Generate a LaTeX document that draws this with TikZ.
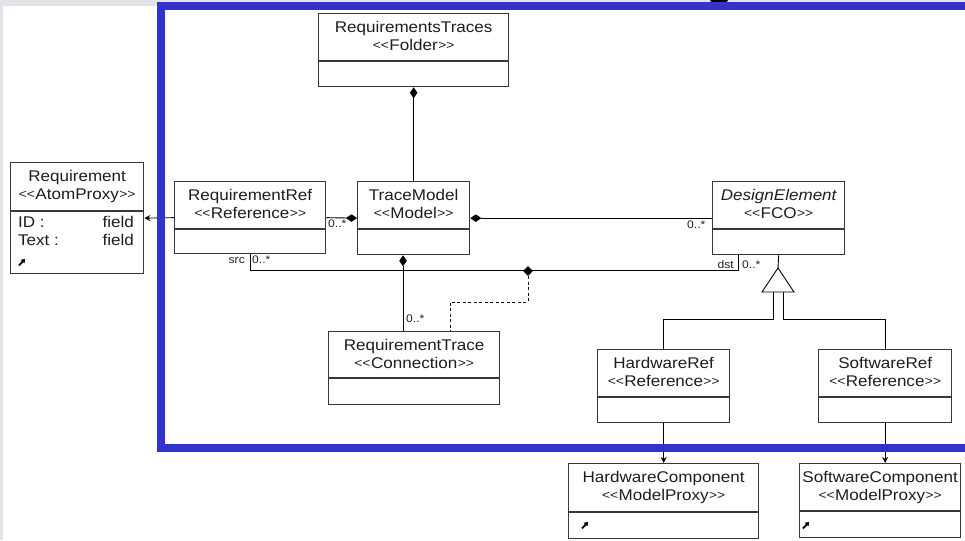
\documentclass[tikz,border=0pt]{standalone}
\usepackage{fontspec}
\setmainfont{Liberation Sans}[FakeStretch=1.1, Ligatures=TeXOff]
\usetikzlibrary{arrows.meta,calc,shapes.geometric}

\definecolor{framebl}{RGB}{51,51,204}
\definecolor{pagegray}{RGB}{227,228,234}
\definecolor{edgegray}{RGB}{55,55,55}
\definecolor{inkgray}{RGB}{30,30,30}

\tikzset{
  classbox/.style={draw=edgegray, line width=1.3pt, fill=white, inner sep=0pt, anchor=north west},
  divider/.style={draw=edgegray, line width=1.3pt},
  titletext/.style={inner sep=0pt, anchor=base, text=inkgray, font=\fontsize{15.5}{18}\selectfont},
  fieldtext/.style={inner sep=0pt, text=inkgray, font=\fontsize{15.5}{18}\selectfont},
  multtext/.style={inner sep=0pt, anchor=base west, text=inkgray, font=\fontsize{11}{13}\selectfont},
  link/.style={draw=black, line width=0.9pt},
  compos/.style={link, {Diamond[length=11pt,width=7.5pt]}-},
  navarrow/.style={link, -{Stealth[length=6pt,width=6pt]}},
  assocdash/.style={link, dash pattern=on 3pt off 2.5pt},
  junction/.style={diamond, fill=black, inner sep=0pt, minimum size=10pt},
  gentri/.style={link, fill=white},
  frameline/.style={draw=framebl, line width=8pt},
  proxyicon/.style={line width=1.8pt, -{Triangle[length=3.5pt,width=5pt]}}
}

% stereotype label with small doubled angle brackets
\newcommand\smallbr[1]{\raisebox{1pt}{\fontsize{12.5}{14}\selectfont#1\kern0pt#1}}
\newcommand\stereo[1]{\smallbr{<}\kern0.5pt#1\kern0.5pt\smallbr{>}}

% class box: name, left, top, right, bottom, divider y, name line, stereotype
\newcommand\umlclass[8]{%
  \node[classbox, minimum width=#4-#2, minimum height=#5-#3] (#1) at (#2,#3) {};
  \draw[divider] (#2,#6) -- (#4,#6);
  \node[titletext] (#1-name) at ($(#1.north)+(0,19.5)$) {#7};
  \node[titletext] (#1-kind) at ($(#1.north)+(0,37.5)$) {\stereo{#8}};
}

\begin{document}
\begin{tikzpicture}[x=1pt,y=-1pt]
  \useasboundingbox (0,0) rectangle (965,540);
  \begin{scope}
    \clip (0,0) rectangle (965,540);
    % page background
    \fill[pagegray] (0,0) rectangle (965,540);
    \fill[white] (3,6) rectangle (965,540);
    \fill[black] (719,0) ellipse (9 and 3.5);

    % classes
    \umlclass{traces}{318}{13}{508}{86}{61}{RequirementsTraces}{Folder}
    \umlclass{req}{10}{162}{143}{273}{211}{Requirement}{AtomProxy}
    \umlclass{rref}{174}{181}{325}{253}{229}{RequirementRef}{Reference}
    \umlclass{tmodel}{357}{181}{469}{254}{229}{TraceModel}{Model}
    \umlclass{design}{712}{181}{844}{254}{229}{\itshape DesignElement}{FCO}
    \umlclass{rtrace}{328}{331}{499}{404}{378}{RequirementTrace}{Connection}
    \umlclass{hwref}{597}{349}{729}{422}{397}{HardwareRef}{Reference}
    \umlclass{swref}{818}{349}{951}{422}{397}{SoftwareRef}{Reference}
    \umlclass{hwc}{568}{463}{758}{538}{512}{HardwareComponent}{ModelProxy}
    \umlclass{swc}{799}{463}{960}{537}{511}{SoftwareComponent}{ModelProxy}

    % attributes of Requirement
    \node[fieldtext, anchor=base west] (req-id) at (18,227) {ID :};
    \node[fieldtext, anchor=base east] (req-idv) at (134,227) {field};
    \node[fieldtext, anchor=base west] (req-tx) at (18,245.5) {Text :};
    \node[fieldtext, anchor=base east] (req-txv) at (134,245.5) {field};

    % proxy markers
    \draw[proxyicon] (19,265.5) -- (25,259);
    \draw[proxyicon] (582,528.5) -- (588,522);
    \draw[proxyicon] (803,528.5) -- (809,522);

    % containment
    \draw[compos] (traces.south) -- (tmodel.north);
    \draw[compos] (tmodel.west) -- (rref.east);
    \draw[compos] (tmodel.east) -- (design.west);
    \coordinate (tmdown) at (403,0);
    \draw[compos] (tmodel.south -| tmdown) -- (rtrace.north -| tmdown);

    % reference to the atom proxy
    \draw[navarrow] (rref.west) -- (req.east);

    % src / dst connection line
    \coordinate (srcpt) at (250,270);
    \coordinate (dstpt) at (738,270);
    \draw[link] (rref.south -| srcpt) -- (srcpt) -- (dstpt) -- (design.south -| dstpt);
    \node[junction] (conn) at (528,271) {};
    \coordinate (dbend) at (450,302);
    \draw[assocdash] (conn.south) |- (dbend) -- (dbend |- rtrace.north);

    % inheritance
    \coordinate (genapex) at (778,268);
    \coordinate (genL) at (773,292);
    \coordinate (genR) at (783,292);
    \coordinate (splitY) at (0,319);
    \draw[link] (design.south) -- (genapex);
    \draw[link] (genL) -- (genL |- splitY) -| (hwref.north);
    \draw[link] (genR) -- (genR |- splitY) -| (swref.north);
    \draw[gentri] (genapex) -- ++(16,24) -- ++(-32,0) -- cycle;

    % references to the model proxies
    \draw[navarrow] (hwref.south) -- (hwc.north);
    \draw[navarrow] (swref.south) -- (swref.south |- swc.north);

    % multiplicities and roles
    \node[multtext] (m-rref) at (328,227.5) {0..*};
    \node[multtext] (m-design) at (687,228) {0..*};
    \node[multtext] (m-src) at (252,263) {0..*};
    \node[multtext, anchor=base east] (r-src) at (245,263) {src};
    \node[multtext, anchor=base east] (r-dst) at (734,268) {dst};
    \node[multtext] (m-dst) at (742,268) {0..*};
    \node[multtext] (m-rtrace) at (406,322.5) {0..*};

    % frame
    \draw[frameline] (161,6.5) rectangle (1000,447.5);
  \end{scope}
\end{tikzpicture}
\end{document}
